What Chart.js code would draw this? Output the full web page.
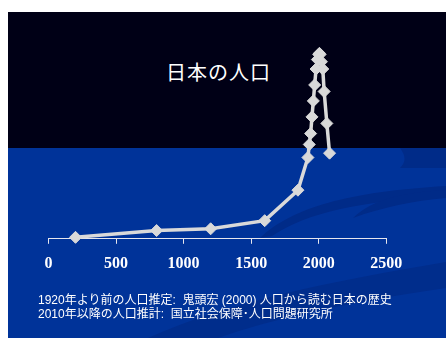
<!DOCTYPE html>
<html>
<head>
<meta charset="utf-8">
<script src="https://cdn.jsdelivr.net/npm/chart.js@4"></script>
<style>
  html,body{margin:0;padding:0;background:#fff;width:446px;height:338px;overflow:hidden}
  #panel{position:absolute;left:8px;top:12px;width:438px;height:326px;background:#003399;overflow:hidden}
  #top{position:absolute;left:0;top:0;width:100%;height:136px;background:#000016}
  #deco{position:absolute;left:0;top:0}
  #title{position:absolute;left:0;top:45px;width:421px;text-align:center;color:#fff;font:20px "Noto Sans CJK JP",sans-serif;letter-spacing:1px}
  #chartBox{position:absolute;left:0;top:0;width:438px;height:326px}
  .note{position:absolute;left:30px;color:#fff;font:12px "Liberation Sans","Noto Sans CJK JP",sans-serif;white-space:pre}
</style>
</head>
<body>
<div id="panel">
  <div id="top"></div>
  <svg id="deco" width="438" height="326">
    <path d="M252,226 C285,195 340,180 438,174 L438,184 C350,190 300,200 264,224 Z" fill="#002b88"/>
    <path d="M345,206 C365,186 400,180 438,178 L438,186 C405,189 375,195 345,206 Z" fill="#002b88"/>
    <path d="M438,136 L392,136 C398,144 398,150 392,156 L438,156 Z" fill="#002b88"/>
    <path d="M140,326 C220,290 320,270 438,250 L438,276 C340,290 260,308 210,326 Z" fill="#002d8c"/>
  </svg>
  <div id="title">日本の人口</div>
  <div id="chartBox"><canvas id="c" width="438" height="326"></canvas></div>
  <div class="note" style="top:278px">1920年より前の人口推定:  鬼頭宏 (2000) 人口から読む日本の歴史</div>
  <div class="note" style="top:292px">2010年以降の人口推計:  国立社会保障･人口問題研究所</div>
</div>
<script>
// population of Japan (millions) by year
const YEARS = [200, 800, 1200, 1600, 1846, 1920, 1930, 1940, 1950, 1960, 1970, 1980, 1990, 2000, 2005, 2010, 2020, 2030, 2040, 2060, 2080];
const POP = [1.0, 5.7, 6.9, 12.5, 33.5, 56, 65, 72.5, 84, 95, 106, 117, 123.5, 127, 127.8, 127, 122, 117, 101.5, 79.5, 59];
const X_TICKS = [0, 500, 1000, 1500, 2000, 2500];

const points = YEARS.map((y,i)=>({x:y, y:POP[i]}));
const LINE = '#d9d9d9';

new Chart(document.getElementById('c'),{
  type:'line',
  data:{datasets:[{
    data:points, borderColor:LINE, backgroundColor:LINE, borderWidth:3.5,
    pointStyle:'rectRot', pointRadius:6, pointBorderWidth:1, pointBackgroundColor:LINE, pointBorderColor:LINE,
    tension:0, clip:false
  }]},
  options:{
    responsive:false, animation:false,
    layout:{autoPadding:false, padding:{left:40.5, right:59.7, top:17.8, bottom:55}},
    plugins:{legend:{display:false}, tooltip:{enabled:false}},
    scales:{
      x:{type:'linear', min:0, max:2500,
        afterBuildTicks:s=>{s.ticks = X_TICKS.map(v=>({value:v}))},
        ticks:{color:'#fff', padding:10, callback:v=>String(v), font:{family:'"Liberation Serif","Times New Roman",serif', size:16, weight:'bold'}},
        grid:{display:true, drawOnChartArea:false, drawTicks:true, tickLength:5, color:'#e6e6ee'},
        border:{display:true, color:'#e6e6ee', width:1}
      },
      y:{display:false, min:0, max:144}
    }
  }
});
</script>
</body>
</html>
